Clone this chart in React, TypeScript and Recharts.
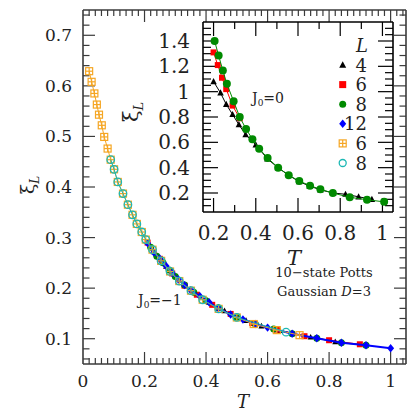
import React from 'react'
import { ScatterChart, Scatter, XAxis, YAxis, CartesianGrid, ReferenceLine } from 'recharts'

// ---- main panel, J0 = -1 ----
const T_L4 = [0.23, 0.27, 0.31, 0.36, 0.41, 0.46, 0.53, 0.58, 0.64, 0.74, 0.82]
const XI_L4 = [0.272, 0.243, 0.217, 0.193, 0.172, 0.155, 0.136, 0.125, 0.116, 0.103, 0.094]

const T_L6 = [0.21, 0.25, 0.29, 0.33, 0.37, 0.42, 0.48, 0.55, 0.63, 0.72, 0.8, 0.9]
const XI_L6 = [0.29, 0.258, 0.229, 0.205, 0.187, 0.167, 0.149, 0.131, 0.118, 0.105, 0.097, 0.089]

const T_L8 = [0.22, 0.24, 0.26, 0.28, 0.3, 0.33, 0.36, 0.4, 0.44, 0.5, 0.56, 0.62, 0.68, 0.76, 0.84, 0.92]
const XI_L8 = [0.281, 0.263, 0.25, 0.236, 0.223, 0.206, 0.192, 0.175, 0.161, 0.142, 0.129, 0.119, 0.11, 0.101, 0.092, 0.087]

const T_L12 = [0.21, 0.23, 0.25, 0.27, 0.29, 0.31, 0.33, 0.35, 0.38, 0.41, 0.44, 0.48, 0.52, 0.56, 0.6, 0.68, 0.76, 0.84, 0.92, 1.0]
const XI_L12 = [0.289, 0.271, 0.258, 0.244, 0.23, 0.217, 0.206, 0.196, 0.184, 0.172, 0.16, 0.148, 0.138, 0.129, 0.122, 0.11, 0.101, 0.092, 0.087, 0.081]

const T_O6 = [0.02, 0.028, 0.037, 0.045, 0.052, 0.061, 0.069, 0.08, 0.09, 0.101, 0.113, 0.13, 0.146, 0.161, 0.175, 0.191, 0.204, 0.226, 0.254, 0.283, 0.313, 0.351, 0.389, 0.441, 0.5, 0.555, 0.63, 0.704]
const XI_O6 = [0.629, 0.608, 0.585, 0.563, 0.543, 0.522, 0.499, 0.476, 0.454, 0.435, 0.41, 0.387, 0.365, 0.345, 0.327, 0.311, 0.296, 0.276, 0.254, 0.233, 0.214, 0.195, 0.177, 0.159, 0.142, 0.129, 0.117, 0.107]

const T_O8 = [0.09, 0.101, 0.113, 0.13, 0.146, 0.161, 0.175, 0.191, 0.204, 0.226, 0.254, 0.283, 0.313, 0.351, 0.389, 0.441, 0.5, 0.66]
const XI_O8 = [0.454, 0.435, 0.41, 0.387, 0.365, 0.345, 0.327, 0.311, 0.296, 0.276, 0.254, 0.233, 0.214, 0.195, 0.177, 0.159, 0.142, 0.113]

// ---- inset, J0 = 0 ----
const TI_L4 = [0.2, 0.233, 0.26, 0.29, 0.32, 0.352, 0.4, 0.455, 0.505, 0.556, 0.605, 0.655, 0.706, 0.767, 0.825, 0.887, 0.95]
const XII_L4 = [1.08, 0.99, 0.9, 0.82, 0.74, 0.66, 0.58, 0.47, 0.4, 0.34, 0.29, 0.255, 0.225, 0.2, 0.19, 0.17, 0.15]

const TI_L6 = [0.2, 0.22, 0.24, 0.26, 0.29, 0.324]
const XII_L6 = [1.31, 1.21, 1.11, 1.02, 0.89, 0.79]

const TI_L8 = [0.205, 0.224, 0.244, 0.263, 0.295, 0.324, 0.354, 0.384, 0.416, 0.456, 0.506, 0.556, 0.606, 0.657, 0.706, 0.765, 0.845, 0.927, 1.008]
const XII_L8 = [1.4, 1.285, 1.167, 1.063, 0.924, 0.8, 0.705, 0.625, 0.55, 0.477, 0.4, 0.341, 0.294, 0.258, 0.229, 0.2, 0.166, 0.147, 0.13]

// tick labels
const MAIN_X_LABELS = [0, 0.2, 0.4, 0.6, 0.8, 1]
const MAIN_Y_LABELS = [0.1, 0.2, 0.3, 0.4, 0.5, 0.6, 0.7]
const INSET_X_LABELS = [0.2, 0.4, 0.6, 0.8, 1]
const INSET_Y_LABELS = [0.2, 0.4, 0.6, 0.8, 1, 1.2, 1.4]

const LEGEND = [
  { label: '4', kind: 'tri', color: '#000' },
  { label: '6', kind: 'sq', color: '#ff0000' },
  { label: '8', kind: 'dot', color: '#008a00' },
  { label: '12', kind: 'dia', color: '#0000ff' },
  { label: '6', kind: 'osq', color: '#f5a623' },
  { label: '8', kind: 'ocirc', color: '#1cb8b4' },
]

const FONT = 'DejaVu Serif, serif'

const zip = (t: number[], xi: number[]) => t.map((T, i) => ({ T, xi: xi[i] }))

function stepTicks(lo: number, hi: number, step: number) {
  const out: number[] = []
  const n = Math.round((hi - lo) / step)
  for (let i = 0; i <= n; i++) out.push(+(lo + i * step).toFixed(4))
  return out
}

const isIn = (v: number, list: number[]) => list.some((m) => Math.abs(m - v) < 1e-6)

function Marker({ cx, cy, kind, color, size }: any) {
  if (cx == null || cy == null) return null
  const r = size / 2
  switch (kind) {
    case 'tri':
      return <polygon points={`${cx},${cy - r * 1.1} ${cx + r},${cy + r * 0.8} ${cx - r},${cy + r * 0.8}`} fill={color} />
    case 'sq':
      return <rect x={cx - r} y={cy - r} width={size} height={size} fill={color} />
    case 'dot':
      return <circle cx={cx} cy={cy} r={r} fill={color} />
    case 'dia':
      return <polygon points={`${cx},${cy - r * 1.2} ${cx + r},${cy} ${cx},${cy + r * 1.2} ${cx - r},${cy}`} fill={color} />
    case 'osq':
      return (
        <g stroke={color} fill="none" strokeWidth={1.2}>
          <rect x={cx - r} y={cy - r} width={size} height={size} />
          <line x1={cx - r} x2={cx + r} y1={cy} y2={cy} />
          <line x1={cx} x2={cx} y1={cy - r} y2={cy + r} />
        </g>
      )
    default:
      return <circle cx={cx} cy={cy} r={r} fill="none" stroke={color} strokeWidth={1.3} />
  }
}

const shape = (kind: string, color: string, size: number) => (p: any) => (
  <Marker cx={p.cx} cy={p.cy} kind={kind} color={color} size={size} />
)

// label-only ticks (the tick marks themselves are reference segments)
function labelTick(side: 'bottom' | 'left', labels: number[], fontSize: number, gap: number) {
  return (props: any) => {
    const { x, y, payload } = props
    const v = payload.value
    if (!isIn(v, labels)) return <g />
    const label = String(Number(v.toFixed(2)))
    return side === 'bottom' ? (
      <text x={x} y={y + gap} textAnchor="middle" fill="#222" fontSize={fontSize} fontFamily={FONT}>{label}</text>
    ) : (
      <text x={x - gap} y={y} textAnchor="end" dominantBaseline="central" fill="#222" fontSize={fontSize} fontFamily={FONT}>{label}</text>
    )
  }
}

// frame + inward ticks on all four sides, built from the axis domains
function frameAndTicks(key: string, xd: number[], yd: number[], plotW: number, plotH: number,
  xTicks: number[], xMajor: number[], yTicks: number[], yMajor: number[],
  xLen: number[], yLen: number[], color: string) {
  const ux = (xd[1] - xd[0]) / plotW
  const uy = (yd[1] - yd[0]) / plotH
  const common = { xAxisId: 'b', yAxisId: 'l', stroke: color, strokeWidth: 1.2, ifOverflow: 'visible' as const }
  const out: any[] = []
  xTicks.forEach((v, i) => {
    const h = (isIn(v, xMajor) ? xLen[0] : xLen[1]) * uy
    out.push(<ReferenceLine key={`${key}xb${i}`} {...common} segment={[{ x: v, y: yd[0] }, { x: v, y: yd[0] + h }]} />)
    out.push(<ReferenceLine key={`${key}xt${i}`} {...common} segment={[{ x: v, y: yd[1] }, { x: v, y: yd[1] - h }]} />)
  })
  yTicks.forEach((v, i) => {
    const w = (isIn(v, yMajor) ? yLen[0] : yLen[1]) * ux
    out.push(<ReferenceLine key={`${key}yl${i}`} {...common} segment={[{ x: xd[0], y: v }, { x: xd[0] + w, y: v }]} />)
    out.push(<ReferenceLine key={`${key}yr${i}`} {...common} segment={[{ x: xd[1], y: v }, { x: xd[1] - w, y: v }]} />)
  })
  const edge = { ...common, strokeWidth: 1.6 }
  out.push(<ReferenceLine key={`${key}ft`} {...edge} segment={[{ x: xd[0], y: yd[1] }, { x: xd[1], y: yd[1] }]} />)
  out.push(<ReferenceLine key={`${key}fr`} {...edge} segment={[{ x: xd[1], y: yd[0] }, { x: xd[1], y: yd[1] }]} />)
  out.push(<ReferenceLine key={`${key}fb`} {...edge} segment={[{ x: xd[0], y: yd[0] }, { x: xd[1], y: yd[0] }]} />)
  out.push(<ReferenceLine key={`${key}fl`} {...edge} segment={[{ x: xd[0], y: yd[0] }, { x: xd[0], y: yd[1] }]} />)
  return out
}

const MAIN_SERIES = [
  { name: 'L4', data: zip(T_L4, XI_L4), kind: 'tri', color: '#000', size: 6, lw: 1 },
  { name: 'L6', data: zip(T_L6, XI_L6), kind: 'sq', color: '#ff0000', size: 6, lw: 1 },
  { name: 'L8', data: zip(T_L8, XI_L8), kind: 'dot', color: '#008a00', size: 7, lw: 1 },
  { name: 'L12', data: zip(T_L12, XI_L12), kind: 'dia', color: '#0000ff', size: 7, lw: 2 },
  { name: 'O6', data: zip(T_O6, XI_O6), kind: 'osq', color: '#f5a623', size: 7, lw: 1 },
  { name: 'O8', data: zip(T_O8, XI_O8), kind: 'ocirc', color: '#1cb8b4', size: 7.5, lw: 1 },
]

const INSET_SERIES = [
  { name: 'I6', data: zip(TI_L6, XII_L6), kind: 'sq', color: '#ff0000', size: 6 },
  { name: 'I4', data: zip(TI_L4, XII_L4), kind: 'tri', color: '#000', size: 6.5 },
  { name: 'I8', data: zip(TI_L8, XII_L8), kind: 'dot', color: '#008a00', size: 8 },
]

function MainChart() {
  const xd = [0, 1.05]
  const yd = [0.05, 0.75]
  const xTicks = stepTicks(0.02, 1.04, 0.02)
  const yTicks = stepTicks(0.06, 0.74, 0.02)
  return (
    <ScatterChart width={415} height={415} margin={{ top: 10, right: 9, bottom: 21, left: 0 }}>
      <XAxis xAxisId="b" type="number" dataKey="T" domain={xd} ticks={MAIN_X_LABELS} interval={0} height={30}
        tickSize={0} tickMargin={0} tickLine={false} axisLine={false}
        tick={labelTick('bottom', MAIN_X_LABELS, 17, 23)} />
      <YAxis yAxisId="l" type="number" dataKey="xi" domain={yd} ticks={MAIN_Y_LABELS} interval={0} width={83}
        tickSize={0} tickMargin={0} tickLine={false} axisLine={false}
        tick={labelTick('left', MAIN_Y_LABELS, 17, 11)} />
      {frameAndTicks('m', xd, yd, 323, 354, xTicks, MAIN_X_LABELS, yTicks, MAIN_Y_LABELS, [12, 6], [12, 6.5], '#3a3a3a')}
      {MAIN_SERIES.map((s) => (
        <Scatter key={s.name} xAxisId="b" yAxisId="l" data={s.data} isAnimationActive={false}
          line={{ stroke: s.color, strokeWidth: s.lw }} lineType="joint"
          shape={shape(s.kind, s.color, s.size)} />
      ))}
    </ScatterChart>
  )
}

function InsetChart() {
  const xd = [0.15, 1.05]
  const yd = [0.05, 1.55]
  const xTicks = stepTicks(0.2, 1.0, 0.1)
  const yTicks = stepTicks(0.1, 1.5, 0.05)
  return (
    <ScatterChart width={280} height={260} margin={{ top: 7, right: 7, bottom: 23, left: 0 }}>
      <CartesianGrid xAxisId="b" yAxisId="l" horizontal={false} vertical={false} fill="#fff" fillOpacity={1} />
      <XAxis xAxisId="b" type="number" dataKey="T" domain={xd} ticks={INSET_X_LABELS} interval={0} height={40}
        tickSize={0} tickMargin={0} tickLine={false} axisLine={false}
        tick={labelTick('bottom', INSET_X_LABELS, 20, 28)} />
      <YAxis yAxisId="l" type="number" dataKey="xi" domain={yd} ticks={INSET_Y_LABELS} interval={0} width={83}
        tickSize={0} tickMargin={0} tickLine={false} axisLine={false}
        tick={labelTick('left', INSET_Y_LABELS, 20, 13)} />
      {frameAndTicks('i', xd, yd, 190, 190, xTicks, INSET_X_LABELS, yTicks, INSET_Y_LABELS, [14, 7], [15, 8], '#000')}
      {INSET_SERIES.map((s) => (
        <Scatter key={s.name} xAxisId="b" yAxisId="l" data={s.data} isAnimationActive={false}
          line={{ stroke: s.color, strokeWidth: 1 }} lineType="joint"
          shape={shape(s.kind, s.color, s.size)} />
      ))}
    </ScatterChart>
  )
}

function Annotations() {
  return (
    <svg width={415} height={415} style={{ position: 'absolute', left: 0, top: 0, pointerEvents: 'none' }}
      fontFamily={FONT} fill="#222">
      <text transform="translate(34,185) rotate(-90)" fontSize={19} textAnchor="middle">
        ξ<tspan fontSize={12} fontStyle="italic" dy={5}>L</tspan>
      </text>
      <text x={243} y={408} fontSize={18} fontStyle="italic" textAnchor="middle">T</text>
      <text transform="translate(138,112) rotate(-90)" fontSize={21} textAnchor="middle">
        ξ<tspan fontSize={13} fontStyle="italic" dy={5}>L</tspan>
      </text>
      <text x={294} y={265} fontSize={21} fontStyle="italic" textAnchor="middle">T</text>
      <text x={252} y={103} fontSize={14}>
        J<tspan fontSize={9} dy={3}>0</tspan><tspan dy={-3}>=0</tspan>
      </text>
      <text x={138} y={305} fontSize={14}>
        J<tspan fontSize={9} dy={3}>0</tspan><tspan dy={-3}>=−1</tspan>
      </text>
      <text x={324} y={277} fontSize={13} textAnchor="middle">10−state Potts</text>
      <text x={324} y={296} fontSize={13} textAnchor="middle">
        Gaussian <tspan fontStyle="italic">D</tspan>=3
      </text>
      <text x={362} y={52} fontSize={18} fontStyle="italic" textAnchor="middle">L</text>
      {LEGEND.map((e, i) => {
        const cy = 65 + i * 19.6
        return (
          <g key={i}>
            <Marker cx={342.7} cy={cy} kind={e.kind} color={e.color} size={7} />
            <text x={367} y={cy + 6.5} fontSize={18} textAnchor="end">{e.label}</text>
          </g>
        )
      })}
    </svg>
  )
}

export default function App() {
  return (
    <div style={{ position: 'absolute', left: 0, top: 0, width: 415, height: 415, background: '#fff' }}>
      <MainChart />
      <div style={{ position: 'absolute', left: 120, top: 15 }}>
        <InsetChart />
      </div>
      <Annotations />
    </div>
  )
}
